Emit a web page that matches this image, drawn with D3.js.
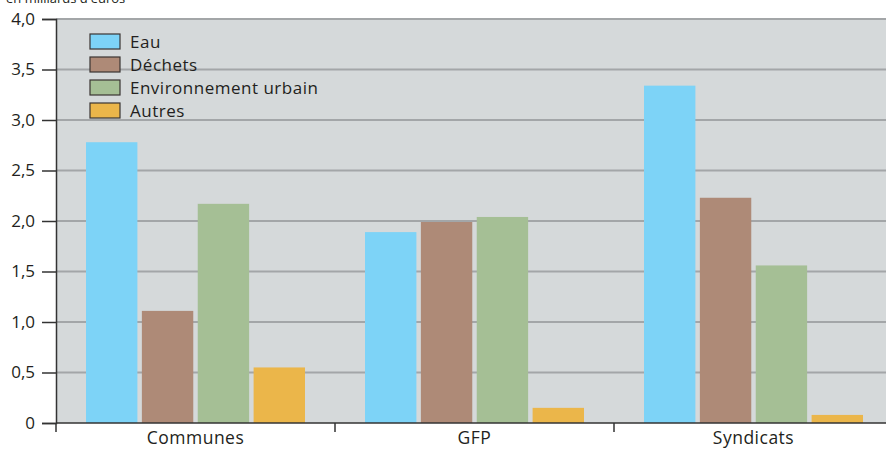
<!DOCTYPE html>
<html>
<head>
<meta charset="utf-8">
<script src="https://cdn.jsdelivr.net/npm/d3@7"></script>
<style>
  body { margin: 0; background: #fff; }
  svg { display: block; font-family: "Open Sans", sans-serif; }
</style>
</head>
<body>
<svg id="chart" width="886" height="450"></svg>
<script>
// data (milliards d'euros)
var categories = ["Communes", "GFP", "Syndicats"];
var series = ["Eau", "Déchets", "Environnement urbain", "Autres"];
var eau = [2.78, 1.89, 3.34];
var dechets = [1.11, 1.99, 2.23];
var envUrbain = [2.17, 2.04, 1.56];
var autres = [0.55, 0.15, 0.08];
var yTicks = [0, 0.5, 1, 1.5, 2, 2.5, 3, 3.5, 4];

var COLORS = {
  "Eau": "#7dd3f7",
  "Déchets": "#ae8a77",
  "Environnement urbain": "#a5bf95",
  "Autres": "#ebb64a"
};

var values = [eau, dechets, envUrbain, autres];
var data = categories.map(function(c, i) {
  return { cat: c, vals: series.map(function(s, j) { return { key: s, value: values[j][i] }; }) };
});

var svg = d3.select("#chart");
var plotLeft = 56, plotTop = 19, plotBottom = 423, plotRight = 886;

var x = d3.scaleBand().domain(categories).range([plotLeft, plotLeft + 3 * 279]);
var x1 = d3.scaleBand().domain(series).range([30, 249]).paddingInner(0.08);
var y = d3.scaleLinear().domain([0, 4]).range([plotBottom, plotTop]);

// plot background
svg.append("rect")
  .attr("x", plotLeft).attr("y", plotTop)
  .attr("width", plotRight - plotLeft).attr("height", plotBottom - plotTop)
  .attr("fill", "#d5d9da");

// grid
svg.append("g")
  .selectAll("line")
  .data(yTicks.filter(function(d) { return d > 0; }))
  .enter()
  .append("line")
  .attr("x1", plotLeft).attr("x2", plotRight)
  .attr("y1", function(d) { return y(d); })
  .attr("y2", function(d) { return y(d); })
  .attr("stroke", "#a3a6a8")
  .attr("stroke-width", 2);

// bars
var groups = svg.append("g")
  .selectAll("g")
  .data(data)
  .enter()
  .append("g")
  .attr("transform", function(d) { return "translate(" + x(d.cat) + ",0)"; });

groups.selectAll("rect")
  .data(function(d) { return d.vals; })
  .enter()
  .append("rect")
  .attr("x", function(d) { return x1(d.key); })
  .attr("width", x1.bandwidth())
  .attr("y", function(d) { return y(d.value); })
  .attr("height", function(d) { return plotBottom - y(d.value); })
  .attr("fill", function(d) { return COLORS[d.key]; });

// y axis
var fmt = function(d) { return d === 0 ? "0" : d3.format(".1f")(d).replace(".", ","); };
var yAxis = svg.append("g")
  .attr("transform", "translate(" + plotLeft + ",0)")
  .call(d3.axisLeft(y).tickValues(yTicks).tickFormat(fmt).tickSize(14).tickPadding(7));
yAxis.select(".domain").attr("stroke", "#333").attr("stroke-width", 1.5);
yAxis.selectAll(".tick line").attr("stroke", "#333").attr("stroke-width", 1.5);
yAxis.selectAll("text")
  .style("font-size", "17px")
  .style("font-family", "'Open Sans', sans-serif")
  .attr("fill", "#231f20");

// x axis
var xAxis = svg.append("g")
  .attr("transform", "translate(0," + plotBottom + ")")
  .call(d3.axisBottom(x).tickSize(0).tickSizeOuter(0).tickPadding(9));
xAxis.select(".domain").attr("stroke", "#333").attr("stroke-width", 1.5)
  .attr("d", "M" + plotLeft + ",0H" + plotRight);
xAxis.selectAll("text")
  .style("font-size", "17.5px")
  .style("letter-spacing", "0.5px")
  .style("font-family", "'Open Sans', sans-serif")
  .attr("fill", "#231f20");

// category separators
svg.append("g")
  .selectAll("line")
  .data(categories)
  .enter()
  .append("line")
  .attr("x1", function(d) { return x(d); })
  .attr("x2", function(d) { return x(d); })
  .attr("y1", plotBottom).attr("y2", plotBottom + 9)
  .attr("stroke", "#333").attr("stroke-width", 1.5);

// unit label (cut off at top in the original)
svg.append("text")
  .attr("x", 6).attr("y", 3)
  .style("font-size", "13px")
  .attr("fill", "#231f20")
  .text("en milliards d'euros");

// legend
var legend = svg.append("g")
  .selectAll("g")
  .data(series)
  .enter()
  .append("g")
  .attr("transform", function(d, i) { return "translate(90," + (34 + i * 23) + ")"; });

legend.append("rect")
  .attr("width", 30).attr("height", 15)
  .attr("fill", function(d) { return COLORS[d]; })
  .attr("stroke", "#3a3433").attr("stroke-width", 1.2);

legend.append("text")
  .attr("x", 40).attr("y", 14)
  .style("font-size", "17px")
  .style("letter-spacing", "0.5px")
  .attr("fill", "#231f20")
  .text(function(d) { return d; });
</script>
</body>
</html>
